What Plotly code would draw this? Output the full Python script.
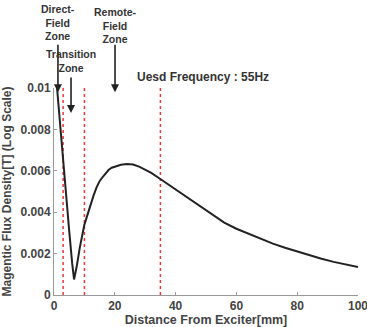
import plotly.graph_objects as go

# Data
distance_mm = [1, 2, 3, 4, 5, 6, 6.6, 7.5, 8.5, 10, 11, 12, 13, 14, 15, 16, 17, 18, 19, 20,
               22, 24, 26, 28, 30, 32, 34, 36, 38, 40, 42, 45, 48, 50, 53, 56, 60, 64, 68,
               72, 76, 80, 84, 88, 92, 96, 100]
flux_density = [0.0100, 0.0082, 0.0064, 0.0047, 0.0031, 0.0015, 0.00075, 0.0014, 0.0023,
                0.0034, 0.0039, 0.0044, 0.0048, 0.0052, 0.0055, 0.0057, 0.0059, 0.00605,
                0.00615, 0.0062, 0.00629, 0.00633, 0.0063, 0.0062, 0.00605, 0.0059, 0.0057,
                0.0055, 0.0053, 0.0051, 0.0049, 0.0046, 0.0043, 0.0041, 0.0038, 0.0035,
                0.0032, 0.00295, 0.0027, 0.00248, 0.00228, 0.0021, 0.00192, 0.00175,
                0.0016, 0.00147, 0.00135]
zone_bounds = [3, 10, 35]
x_ticks = [0, 20, 40, 60, 80, 100]
y_ticks = [0, 0.002, 0.004, 0.006, 0.008, 0.01]
y_tick_labels = ["0", "0.002", "0.004", "0.006", "0.008", "0.01"]

zone_labels = ["Direct-<br>Field<br>Zone", "Transition<br>Zone", "Remote-<br>Field<br>Zone"]
zone_label_x = [0.013, 0.056, 0.2007]      # paper coords
zone_label_y = [1.318, 1.132, 1.303]
zone_arrow_y = [0.979, 0.879, 0.979]
zone_arrow_len = [-49, -37, -49]

FONT = "Liberation Sans, Arial, sans-serif"

fig = go.Figure()

for xb in zone_bounds:
    fig.add_trace(go.Scatter(x=[xb, xb], y=[0, 0.01], mode="lines",
                             line=dict(color="#e8383b", width=1.5, dash="3px,3px"),
                             hoverinfo="skip", showlegend=False))

fig.add_trace(go.Scatter(x=distance_mm, y=flux_density, mode="lines",
                         line=dict(color="#222222", width=2),
                         showlegend=False))

for txt, lx, ly, ay_, al in zip(zone_labels, zone_label_x, zone_label_y, zone_arrow_y, zone_arrow_len):
    fig.add_annotation(x=lx, y=ly, xref="paper", yref="paper", text=f"<b>{txt}</b>",
                       showarrow=False, font=dict(family=FONT, size=10.5, color="#333333"),
                       align="center", xanchor="center", yanchor="middle")
    fig.add_annotation(x=lx, y=ay_, xref="paper", yref="paper", text="", showarrow=True,
                       ax=0, ay=al, arrowhead=2, arrowsize=1, arrowwidth=1.6,
                       arrowcolor="#222222")

fig.add_annotation(x=0.266, y=1.053, xref="paper", yref="paper",
                   text="<b>Uesd Frequency : 55Hz</b>", showarrow=False,
                   xanchor="left", yanchor="middle",
                   font=dict(family=FONT, size=12, color="#333333"))

fig.update_layout(
    width=367, height=327,
    margin=dict(l=54, r=9, t=88, b=32),
    paper_bgcolor="white", plot_bgcolor="white",
    font=dict(family=FONT, color="#444444"),
    xaxis=dict(range=[0, 100], tickmode="array", tickvals=x_ticks,
               ticktext=[f"<b>{t}</b>" for t in x_ticks], ticks="inside", ticklen=3,
               tickcolor="#999999", ticklabeloverflow="allow", automargin=False,
               showline=True, linecolor="#999999", linewidth=1,
               showgrid=False, zeroline=False,
               tickfont=dict(family=FONT, size=12, color="#444444"),
               title=dict(text="<b>Distance From Exciter[mm]</b>", standoff=4,
                          font=dict(family=FONT, size=12.5, color="#444444"))),
    yaxis=dict(range=[0, 0.01], tickmode="array", tickvals=y_ticks,
               ticktext=[f"<b>{t}</b>" for t in y_tick_labels], automargin=False,
               ticks="inside", ticklen=3, tickcolor="#999999", showline=True,
               linecolor="#999999", linewidth=1, showgrid=False, zeroline=False,
               tickfont=dict(family=FONT, size=12, color="#444444"),
               title=dict(text="<b>Magentic Flux Density[T] (Log Scale)</b>", standoff=6,
                          font=dict(family=FONT, size=12, color="#444444"))),
)

fig.write_html("out.html")
